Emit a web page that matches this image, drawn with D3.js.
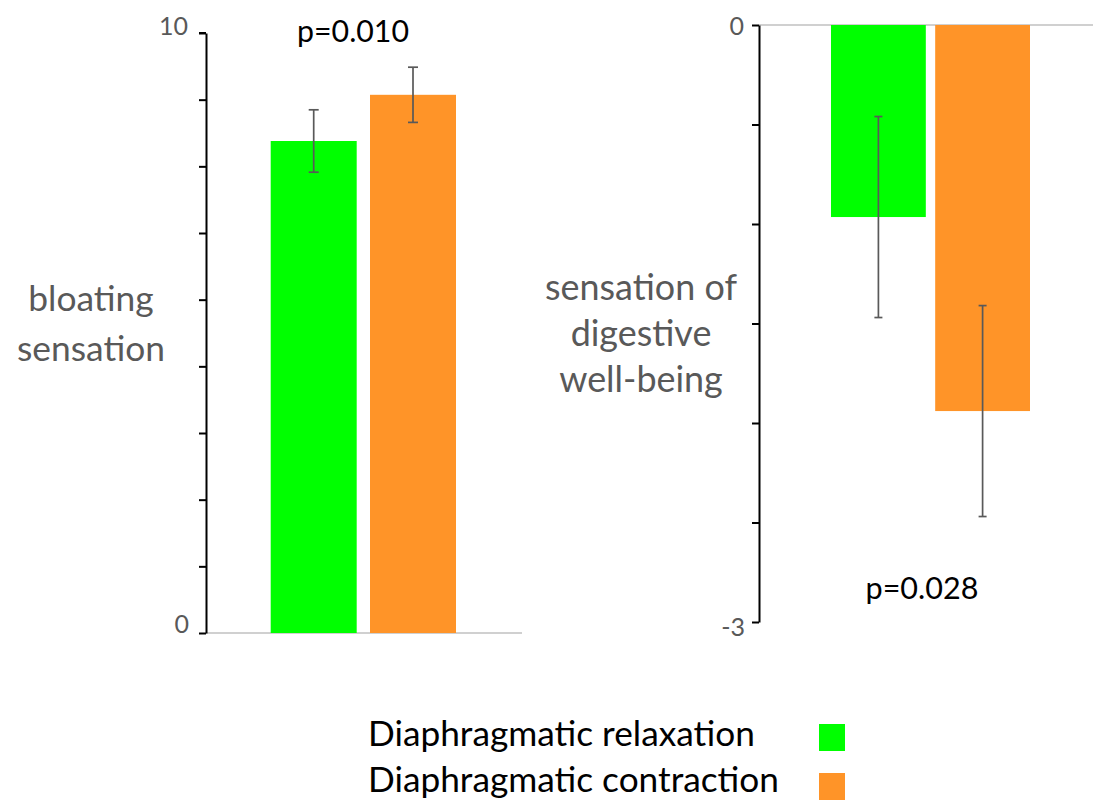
<!DOCTYPE html>
<html>
<head>
<meta charset="utf-8">
<script src="https://cdn.jsdelivr.net/npm/d3@7"></script>
<style>
  html, body { margin: 0; padding: 0; background: #fff; }
  svg { display: block; }
  text { font-family: Lato, "Open Sans", sans-serif; }
</style>
</head>
<body>
<svg id="chart" width="1093" height="801"></svg>
<script>
// ---- data ----
const categories = ["Diaphragmatic relaxation", "Diaphragmatic contraction"];
const barColors = ["#00ff00", "#ff9428"];
const bloatingMeans = [8.2, 8.97];
const bloatingErrors = [0.52, 0.46];
const wellbeingMeans = [-0.965, -1.94];
const wellbeingErrors = [0.505, 0.53];
const pValues = ["p=0.010", "p=0.028"];
const leftTickLabels = ["0", "10"];
const rightTickLabels = ["0", "-3"];
const leftTitle = ["bloating", "sensation"];
const rightTitle = ["sensation of", "digestive", "well-being"];

const svg = d3.select("#chart");
const grey = "#595959";

function fitFont(sel, target, base) {
  sel.style("font-size", base + "px");
  const w = sel.node().getComputedTextLength();
  const s = base * target / w;
  sel.style("font-size", s + "px");
  return s;
}

// ---- left panel ----
const yL = d3.scaleLinear().domain([0, 10]).range([633, 33]);
const xL = d3.scaleBand().domain(categories).range([270.7, 456]).paddingInner(0.134).paddingOuter(0);

svg.append("line").attr("x1", 206).attr("x2", 522).attr("y1", yL(0)).attr("y2", yL(0))
  .attr("stroke", "#d0d0d0").attr("stroke-width", 2);

svg.selectAll(".barL").data(categories).enter().append("rect")
  .attr("x", d => xL(d)).attr("width", xL.bandwidth())
  .attr("y", (d, i) => yL(bloatingMeans[i]))
  .attr("height", (d, i) => yL(0) - yL(bloatingMeans[i]))
  .attr("fill", (d, i) => barColors[i]);

const leftTicks = d3.range(10).map(i => i * 10 / 9);
const axL = svg.append("g").attr("transform", "translate(206,0)")
  .call(d3.axisLeft(yL).tickValues(leftTicks).tickSize(7).tickSizeOuter(0).tickFormat(""));
axL.select(".domain").attr("stroke", "#000").attr("stroke-width", 2);
axL.selectAll(".tick line").attr("stroke", "#000").attr("stroke-width", 2);
axL.append("line").attr("x1", -7).attr("x2", 0).attr("y1", yL(10)).attr("y2", yL(10)).attr("stroke", "#000").attr("stroke-width", 2);

// error bars left
const ebL = svg.selectAll(".ebL").data(categories).enter().append("g");
ebL.append("line")
  .attr("x1", d => xL(d) + xL.bandwidth() / 2).attr("x2", d => xL(d) + xL.bandwidth() / 2)
  .attr("y1", (d, i) => yL(bloatingMeans[i] + bloatingErrors[i]))
  .attr("y2", (d, i) => yL(bloatingMeans[i] - bloatingErrors[i]));
[1, -1].forEach(sgn => {
  ebL.append("line")
    .attr("x1", d => xL(d) + xL.bandwidth() / 2 - 5).attr("x2", d => xL(d) + xL.bandwidth() / 2 + 5)
    .attr("y1", (d, i) => yL(bloatingMeans[i] + sgn * bloatingErrors[i]))
    .attr("y2", (d, i) => yL(bloatingMeans[i] + sgn * bloatingErrors[i]));
});
ebL.selectAll("line").attr("stroke", grey).attr("stroke-width", 1.7);

// tick labels left
svg.append("text").text(leftTickLabels[1]).attr("x", 188).attr("y", 35)
  .attr("text-anchor", "end").attr("fill", grey).style("font-size", "25px");
svg.append("text").text(leftTickLabels[0]).attr("x", 189).attr("y", 633)
  .attr("text-anchor", "end").attr("fill", grey).style("font-size", "25px");

// p-value left
const pL = svg.append("text").text(pValues[0]).attr("x", 353).attr("y", 42)
  .attr("text-anchor", "middle").attr("fill", "#000");
fitFont(pL, 112, 26);

// left title
const ltSize = (() => {
  const t = svg.append("text").text(leftTitle[1]);
  const s = fitFont(t, 148, 30); t.remove(); return s;
})();
svg.selectAll(".lt").data(leftTitle).enter().append("text")
  .text(d => d).attr("x", 91).attr("y", (d, i) => 311 + i * 50)
  .attr("text-anchor", "middle").attr("fill", grey).style("font-size", ltSize + "px");

// ---- right panel ----
const yR = d3.scaleLinear().domain([0, -3]).range([25, 622]);
const xR = d3.scaleBand().domain(categories).range([831, 1030]).paddingInner(0.09).paddingOuter(0);

svg.append("line").attr("x1", 759).attr("x2", 1093).attr("y1", yR(0)).attr("y2", yR(0))
  .attr("stroke", "#d0d0d0").attr("stroke-width", 2);

svg.selectAll(".barR").data(categories).enter().append("rect")
  .attr("x", d => xR(d)).attr("width", xR.bandwidth())
  .attr("y", yR(0))
  .attr("height", (d, i) => yR(wellbeingMeans[i]) - yR(0))
  .attr("fill", (d, i) => barColors[i]);

const rightTicks = d3.range(0, -3.01, -0.5);
const axR = svg.append("g").attr("transform", "translate(759,0)")
  .call(d3.axisLeft(yR).tickValues(rightTicks).tickSize(7).tickSizeOuter(0).tickFormat(""));
axR.select(".domain").attr("stroke", "#000").attr("stroke-width", 2);
axR.selectAll(".tick line").attr("stroke", "#000").attr("stroke-width", 2);

const ebR = svg.selectAll(".ebR").data(categories).enter().append("g");
ebR.append("line")
  .attr("x1", d => xR(d) + xR.bandwidth() / 2).attr("x2", d => xR(d) + xR.bandwidth() / 2)
  .attr("y1", (d, i) => yR(wellbeingMeans[i] + wellbeingErrors[i]))
  .attr("y2", (d, i) => yR(wellbeingMeans[i] - wellbeingErrors[i]));
[1, -1].forEach(sgn => {
  ebR.append("line")
    .attr("x1", d => xR(d) + xR.bandwidth() / 2 - 4).attr("x2", d => xR(d) + xR.bandwidth() / 2 + 4)
    .attr("y1", (d, i) => yR(wellbeingMeans[i] + sgn * wellbeingErrors[i]))
    .attr("y2", (d, i) => yR(wellbeingMeans[i] + sgn * wellbeingErrors[i]));
});
ebR.selectAll("line").attr("stroke", grey).attr("stroke-width", 1.7);

svg.append("text").text(rightTickLabels[0]).attr("x", 744).attr("y", 35)
  .attr("text-anchor", "end").attr("fill", grey).style("font-size", "25px");
svg.append("text").text(rightTickLabels[1]).attr("x", 745).attr("y", 636)
  .attr("text-anchor", "end").attr("fill", grey).style("font-size", "25px");

const pR = svg.append("text").text(pValues[1]).attr("x", 922).attr("y", 599)
  .attr("text-anchor", "middle").attr("fill", "#000");
fitFont(pR, 113, 26);

const rtSize = (() => {
  const t = svg.append("text").text(rightTitle[0]);
  const s = fitFont(t, 192, 30); t.remove(); return s;
})();
svg.selectAll(".rt").data(rightTitle).enter().append("text")
  .text(d => d).attr("x", 641).attr("y", (d, i) => 300 + i * 46)
  .attr("text-anchor", "middle").attr("fill", grey).style("font-size", rtSize + "px");

// ---- legend ----
const lgSize = (() => {
  const t = svg.append("text").text(categories[0]);
  const s = fitFont(t, 387, 32); t.remove(); return s;
})();
const lg = svg.selectAll(".lg").data(categories).enter().append("g");
lg.append("text").text(d => d).attr("x", 368).attr("y", (d, i) => 746 + i * 46)
  .attr("fill", "#000").style("font-size", lgSize + "px");
lg.append("rect").attr("x", 819).attr("y", (d, i) => 724 + i * 49)
  .attr("width", 26).attr("height", 27).attr("fill", (d, i) => barColors[i]);
</script>
</body>
</html>
